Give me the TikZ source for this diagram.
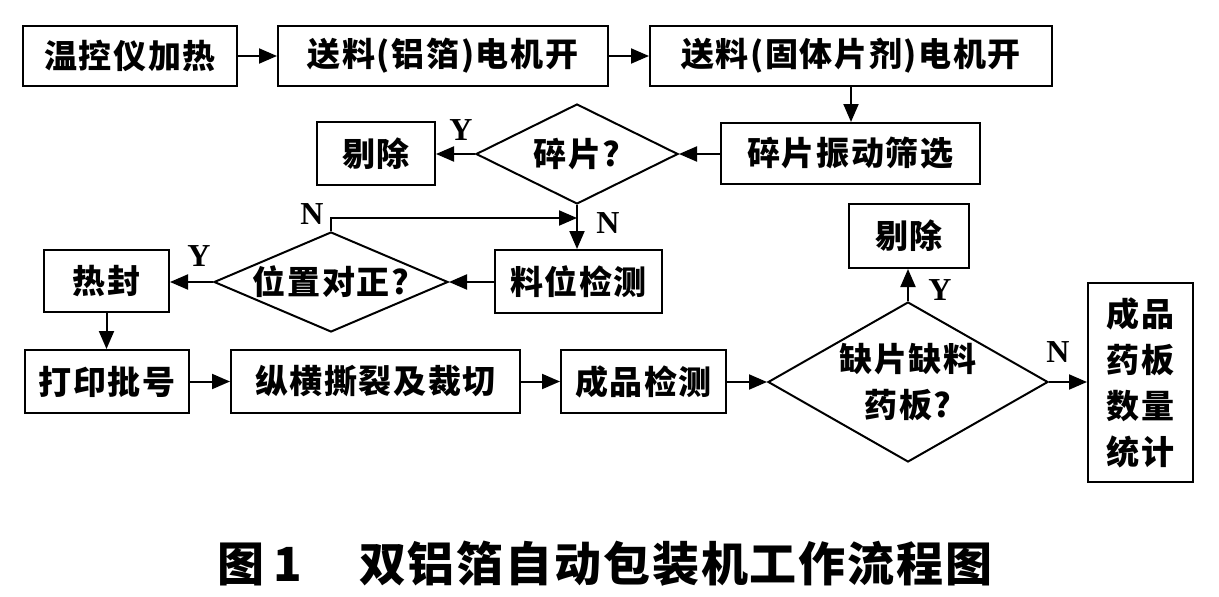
\documentclass[tikz,border=0pt]{standalone}
\usepackage{fontspec}
\setmainfont{Liberation Serif}
\newfontfamily\cjk[LetterSpace=5]{Noto Sans CJK SC}
\newfontfamily\cjkt[LetterSpace=4]{Noto Sans CJK SC}
\usetikzlibrary{arrows.meta,shapes.geometric}
\begin{document}
\begin{tikzpicture}[x=1pt,y=-1pt,line width=2pt,
  box/.style={draw,rectangle,inner sep=0pt,font=\cjk\bfseries\fontsize{33}{40}\selectfont},
  dia/.style={draw,diamond,inner sep=0pt},
  dtext/.style={inner sep=0pt,align=center,font=\cjk\bfseries\fontsize{33}{46}\selectfont},
  arr/.style={-{Triangle[length=18pt,width=15pt]}},
  yn/.style={inner sep=0pt,font=\bfseries\fontsize{32}{32}\selectfont},
  capt/.style={inner sep=0pt,anchor=west,font=\cjkt\bfseries\fontsize{47}{50}\selectfont}]
\useasboundingbox[fill=white] (0,0) rectangle (1219,597);
% top row
\node[box,minimum width=214pt,minimum height=60pt] (n1) at (130,56) {温控仪加热};
\node[box,minimum width=330pt,minimum height=60pt] (n2) at (443,56) {送料(铝箔)电机开};
\node[box,minimum width=402pt,minimum height=60pt] (n3) at (851,56) {送料(固体片剂)电机开};
% second row
\node[box,minimum width=259pt,minimum height=61pt] (n4) at (850.5,153.5) {碎片振动筛选};
\node[dia,minimum width=202pt,minimum height=100pt] (d1) at (577,154) {};
\node[dtext] (d1t) at (d1) {碎片?};
\node[box,minimum width=118pt,minimum height=63pt] (n5) at (376,153.5) {剔除};
% third row
\node[box,minimum width=167pt,minimum height=63pt] (n6) at (578.5,281.5) {料位检测};
\node[dia,minimum width=234pt,minimum height=100pt] (d2) at (331,282) {};
\node[dtext] (d2t) at (d2) {位置对正?};
\node[box,minimum width=125pt,minimum height=62pt] (n7) at (106.5,281) {热封};
% fourth row
\node[box,minimum width=164pt,minimum height=63pt] (n8) at (107,381.5) {打印批号};
\node[box,minimum width=289pt,minimum height=63pt] (n9) at (375.5,381.5) {纵横撕裂及裁切};
\node[box,minimum width=165pt,minimum height=63pt] (n10) at (643.5,381.5) {成品检测};
\node[dia,minimum width=280pt,minimum height=160pt] (d3) at (908,382) {};
\node[dtext] (d3t) at (d3) {缺片缺料\\药板?};
\node[box,minimum width=120pt,minimum height=64pt] (n11) at (909,236) {剔除};
\node[box,minimum width=105pt,minimum height=199pt,align=center,font=\cjk\bfseries\fontsize{33}{46}\selectfont] (n12) at (1140.5,382.5) {成品\\药板\\数量\\统计};
% connectors
\coordinate (j) at (577,218);
\draw[arr] (n1) -- (n2);
\draw[arr] (n2) -- (n3);
\draw[arr] (n3.south) -- (n3.south |- n4.north);
\draw[arr] (n4.west |- d1) -- (d1.east);
\draw[arr] (d1.west) -- (n5.east |- d1.west);
\draw[arr] (d1.south) -- (d1.south |- n6.north);
\draw[arr] (d2.north) |- (j);
\draw[arr] (n6.west |- d2) -- (d2.east);
\draw[arr] (d2.west) -- (n7.east |- d2.west);
\draw[arr] (n7.south) -- (n7.south |- n8.north);
\draw[arr] (n8) -- (n9);
\draw[arr] (n9) -- (n10);
\draw[arr] (n10.east |- d3) -- (d3.west);
\draw[arr] (d3.north) -- (d3.north |- n11.south);
\draw[arr] (d3.east) -- (n12.west |- d3.east);
% labels
\node[yn] (y1) at (461,130) {Y};
\node[yn] (nl1) at (312,214) {N};
\node[yn] (nl2) at (608,223) {N};
\node[yn] (y2) at (199,256) {Y};
\node[yn] (y3) at (940,290) {Y};
\node[yn] (nl3) at (1058,352) {N};
% caption
\node[capt] (c1) at (216,564) {图\hspace{10pt}1};
\node[capt] (c2) at (358,564) {双铝箔自动包装机工作流程图};
\end{tikzpicture}
\end{document}
